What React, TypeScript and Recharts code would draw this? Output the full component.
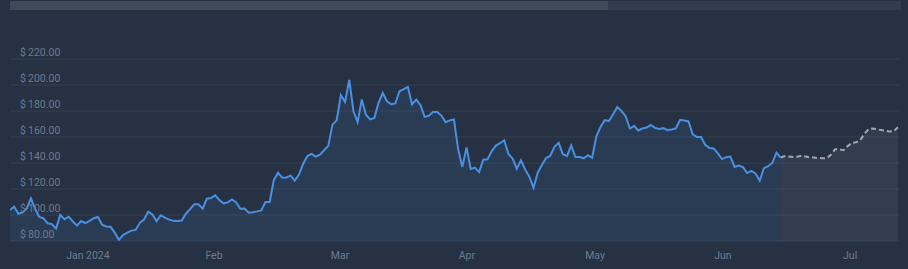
import React from 'react';
import { AreaChart, Area, XAxis, YAxis, CartesianGrid } from 'recharts';

// daily closing prices, day 0 = mid Dec 2023
const priceValues = [
  103.8, 106.4, 101, 102, 105, 112.8, 104.6, 98.5, 97.4, 93.6,
  93, 89.5, 100, 96.7, 98.7, 95, 91.8, 95.4, 93.8, 95.4,
  97.5, 98.5, 92.5, 91.2, 91, 86.5, 80.9, 84.6, 86.4, 88,
  88.5, 94, 96.5, 102.6, 100.5, 95.3, 99.8, 98, 96.4, 95.5,
  95.4, 95.8, 101, 104.5, 108.2, 108.2, 104.8, 112.5, 113, 115.2,
  111.5, 109, 109.7, 112, 109.7, 104.8, 105, 101.8, 102.2, 102.8,
  103.5, 110, 110, 127, 132.5, 128.6, 128.9, 130.3, 126.5, 131.1,
  139.4, 145.4, 147, 145, 146.4, 149.8, 153.2, 169.5, 172.8, 192.3,
  187, 203.9, 180, 171.5, 188.9, 177, 173.5, 174.7, 186.3, 194,
  187.5, 185.2, 185.8, 195.2, 196.8, 198.5, 185, 188.7, 184.6, 175.5,
  176.3, 179.2, 179.3, 176.5, 171.4, 172.8, 173.5, 150.5, 137, 152,
  135.5, 136.5, 133, 142.5, 142.8, 149, 153.4, 155.2, 157.5, 147,
  143.5, 135.6, 142, 135, 129.5, 121, 132.5, 138.5, 143.8, 145.6,
  152.5, 155.5, 146.8, 145.5, 153.5, 144.6, 144.6, 143.6, 146, 144,
  160.5, 167.8, 173, 172.3, 177.5, 183, 180, 176, 166.5, 168.6,
  165, 166.5, 167.3, 169.2, 167, 166.2, 166.8, 165.3, 165.8, 166.7,
  173.2, 172.7, 172, 162, 160, 160, 154, 151.6, 151.2, 147.5,
  143, 144.5, 145, 137, 138, 136.8, 132.3, 134, 132, 126.5,
  136, 137.5, 140, 148, 144.2,
];

// forecast starts on the last price day
const forecastStart = 184;
const forecastValues = [
  144.2, 145.3, 145, 144.7, 144.8, 145.6, 145, 144.2, 144.2, 143.8,
  143.7, 143.7, 146.3, 150.5, 150.5, 149.8, 153, 155.5, 156, 157.5,
  162.5, 166, 166.6, 166, 165.3, 164.8, 164.3, 164.5, 167.5,
];

const monthTickDays = [18.6, 48.7, 78.8, 109.1, 139.7, 170.2, 200.6];
const monthLabels = ['Jan 2024', 'Feb', 'Mar', 'Apr', 'May', 'Jun', 'Jul'];
const priceTicks = [80, 100, 120, 140, 160, 180, 200, 220];

const totalDays = forecastStart + forecastValues.length;
const data = Array.from({ length: totalDays }, (_, day) => ({
  day,
  price: day < priceValues.length ? priceValues[day] : undefined,
  forecast: day >= forecastStart ? forecastValues[day - forecastStart] : undefined,
}));

const textColor = '#6e7b8f';
const font = 'Roboto, "DejaVu Sans", sans-serif';

const MonthTick = (props: any) => {
  const { x, payload } = props;
  const idx = monthTickDays.indexOf(payload.value);
  return (
    <text x={x} y={258.5} textAnchor="middle" fill={textColor} fontSize={10.5} fontFamily={font}>
      {monthLabels[idx]}
    </text>
  );
};

const PriceTick = (props: any) => {
  const { y, payload } = props;
  return (
    <text x={20} y={y - 3} textAnchor="start" fill={textColor} fontSize={10.5} fontFamily={font}>
      {'$\u2009' + Number(payload.value).toFixed(2)}
    </text>
  );
};

const App: React.FC = () => {
  return (
    <div style={{ position: 'absolute', left: 0, top: 0, width: 908, height: 269, background: '#263244', overflow: 'hidden' }}>
      {/* navigator scrollbar */}
      <div style={{ position: 'absolute', left: 10, top: 1, width: 891, height: 9, background: '#323d4f' }} />
      <div style={{ position: 'absolute', left: 10, top: 1, width: 598, height: 9, background: '#3f4a5b' }} />
      <AreaChart
        width={908}
        height={269}
        data={data}
        margin={{ top: 59, right: 8, bottom: 0, left: 10 }}
      >
        <CartesianGrid vertical={false} stroke="#344053" strokeWidth={1} />
        <XAxis
          dataKey="day"
          type="number"
          domain={[0, 212.5]}
          ticks={monthTickDays}
          tick={<MonthTick />}
          axisLine={false}
          tickLine={false}
          height={28}
          allowDataOverflow
        />
        <YAxis
          type="number"
          domain={[80, 220]}
          ticks={priceTicks}
          tick={<PriceTick />}
          axisLine={false}
          tickLine={false}
          mirror
          width={60}
          allowDataOverflow
        />
        <Area
          type="linear"
          dataKey="forecast"
          stroke="#a3a6ab"
          strokeWidth={2}
          strokeDasharray="5 3"
          fill="#8f96a3"
          fillOpacity={0.12}
          dot={false}
          activeDot={false}
          isAnimationActive={false}
        />
        <Area
          type="linear"
          dataKey="price"
          stroke="#4a90e2"
          strokeWidth={2}
          fill="#4a90e2"
          fillOpacity={0.1}
          dot={false}
          activeDot={false}
          isAnimationActive={false}
        />
      </AreaChart>
    </div>
  );
};

export default App;
